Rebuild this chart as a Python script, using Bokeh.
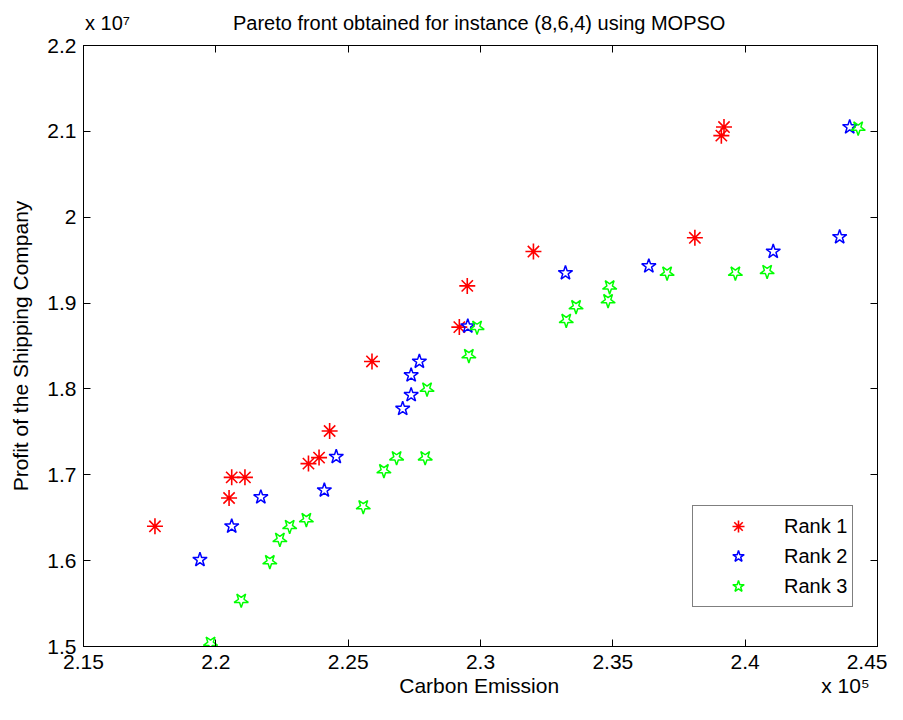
import numpy as np
from bokeh.plotting import figure
from bokeh.models import (Range1d, LinearAxis, FixedTicker, CustomJSTickFormatter,
                          Legend, LegendItem)
from bokeh.embed import file_html
from bokeh.resources import INLINE

# Data (x in units of 1e5, y in units of 1e7)
rank1_x = [2.177, 2.205, 2.206, 2.211, 2.235, 2.239, 2.243, 2.259, 2.292, 2.295, 2.320, 2.381, 2.391, 2.392]
rank1_y = [1.640, 1.673, 1.697, 1.697, 1.713, 1.720, 1.751, 1.832, 1.872, 1.920, 1.960, 1.976, 2.095, 2.105]
rank2_x = [2.194, 2.206, 2.217, 2.241, 2.2455, 2.2706, 2.2738, 2.2738, 2.2769, 2.2952, 2.3321, 2.3636, 2.4106, 2.4357, 2.4395]
rank2_y = [1.601, 1.640, 1.674, 1.682, 1.721, 1.777, 1.793, 1.816, 1.832, 1.873, 1.935, 1.943, 1.960, 1.977, 2.105]
rank3_x = [2.198, 2.2096, 2.2204, 2.2242, 2.2279, 2.2342, 2.2557, 2.2635, 2.2683, 2.2791, 2.2798, 2.2956,
           2.2987, 2.3324, 2.3361, 2.3482, 2.3488, 2.3705, 2.3963, 2.4083, 2.4427]
rank3_y = [1.504, 1.554, 1.599, 1.625, 1.640, 1.648, 1.663, 1.705, 1.720, 1.720, 1.800, 1.839,
           1.872, 1.880, 1.896, 1.903, 1.919, 1.935, 1.935, 1.937, 2.104]

x_ticks = [2.15, 2.2, 2.25, 2.3, 2.35, 2.4, 2.45]
y_ticks = [1.5, 1.6, 1.7, 1.8, 1.9, 2.0, 2.1, 2.2]
series_names = ["Rank 1", "Rank 2", "Rank 3"]

# Texts outside the frame (title row above, axis-title row below) and where they sit on the x scale
top_texts = ["x 10\u2077", "Pareto front obtained for instance (8,6,4) using MOPSO"]
top_text_at = [2.1591, 2.2995]
bottom_texts = ["Carbon Emission", "x 10\u2075"]
bottom_text_at = [2.2995, 2.4379]
y_title = "Profit of the Shipping Company"

FONT = "Liberation Sans"

p = figure(width=887, height=704, output_backend="svg", toolbar_location=None, title=None,
           x_range=Range1d(2.15, 2.45), y_range=Range1d(1.5, 2.2),
           min_border_left=83, min_border_right=10, min_border_top=45, min_border_bottom=58,
           y_axis_label=y_title)

p.grid.visible = False
p.outline_line_color = "black"
p.outline_line_width = 1
p.background_fill_color = "white"
p.border_fill_color = "white"

fmt = CustomJSTickFormatter(code="return tick.toFixed(2).replace(/0+$/,'').replace(/\\.$/,'');")
for ax, ticks in ((p.xaxis[0], x_ticks), (p.yaxis[0], y_ticks)):
    ax.ticker = FixedTicker(ticks=ticks)
    ax.formatter = fmt
    ax.major_tick_in = 7
    ax.major_tick_out = 0
    ax.minor_tick_line_color = None
    ax.axis_line_color = "black"
    ax.major_tick_line_color = "black"
    ax.major_label_text_font = FONT
    ax.major_label_text_font_size = "21px"
    ax.major_label_text_color = "black"
    ax.axis_label_text_font = FONT
    ax.axis_label_text_font_size = "21px"
    ax.axis_label_text_font_style = "normal"
    ax.axis_label_text_color = "black"
p.xaxis[0].major_label_standoff = 8
p.yaxis[0].major_label_standoff = 7
p.yaxis[0].axis_label_standoff = 12

empty = CustomJSTickFormatter(code="return '';")
top = LinearAxis(ticker=FixedTicker(ticks=x_ticks), formatter=empty, major_tick_in=7, major_tick_out=0,
                 minor_tick_line_color=None, major_label_standoff=0, major_label_text_font_size="1px")
right = LinearAxis(ticker=FixedTicker(ticks=y_ticks), formatter=empty, major_tick_in=7, major_tick_out=0,
                   minor_tick_line_color=None, major_label_standoff=0, major_label_text_font_size="1px")
p.add_layout(top, "above")
p.add_layout(right, "right")


def text_axis(texts, positions, size, standoff):
    return LinearAxis(ticker=FixedTicker(ticks=positions),
                      formatter=CustomJSTickFormatter(args=dict(labels=texts), code="return labels[index];"),
                      axis_line_color=None, major_tick_line_color=None, minor_tick_line_color=None,
                      major_tick_in=0, major_tick_out=0, major_label_standoff=standoff,
                      major_label_text_font=FONT, major_label_text_font_size=size,
                      major_label_text_color="black")

p.add_layout(text_axis(top_texts, top_text_at, "20px", 12), "above")
p.add_layout(text_axis(bottom_texts, bottom_text_at, "21px", 2), "below")

r1 = p.scatter(rank1_x, rank1_y, marker="asterisk", size=16, line_color="#ff0000", line_width=1.6)
r2 = p.scatter(rank2_x, rank2_y, marker="star", size=15, line_color="#0000ff", fill_color=None, line_width=1.5)
r3 = p.scatter(rank3_x, rank3_y, marker="star", angle=np.pi, size=15, line_color="#00ff00",
               fill_color=None, line_width=1.5)

legend = Legend(items=[LegendItem(label=series_names[0], renderers=[r1]),
                       LegendItem(label=series_names[1], renderers=[r2]),
                       LegendItem(label=series_names[2], renderers=[r3])],
                location=(609, 39), orientation="vertical")
legend.border_line_color = "black"
legend.border_line_width = 1.3
legend.background_fill_color = "white"
legend.background_fill_alpha = 1
legend.padding = 5
legend.spacing = 0
legend.label_standoff = 6
legend.glyph_width = 80
legend.glyph_height = 30
legend.label_height = 20
legend.label_text_font = FONT
legend.label_text_font_size = "20px"
legend.label_text_color = "black"
legend.margin = 0
p.add_layout(legend, "center")

open("out.html", "w").write(file_html(p, INLINE))
